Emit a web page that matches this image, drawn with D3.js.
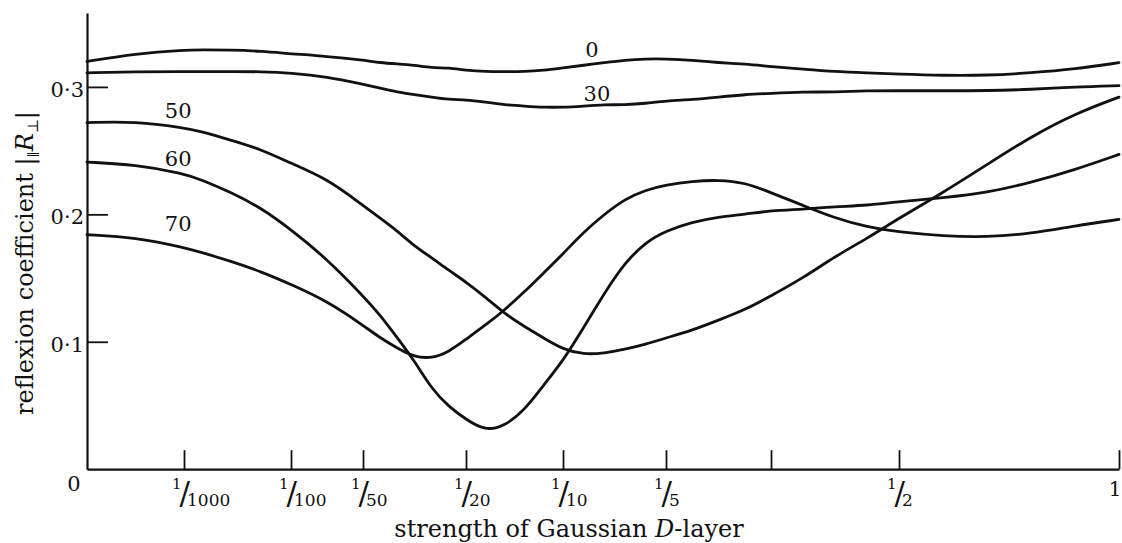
<!DOCTYPE html>
<html>
<head>
<meta charset="utf-8">
<script src="https://cdn.jsdelivr.net/npm/d3@7"></script>
<style>
  html, body { margin: 0; padding: 0; background: #fff; }
  svg { display: block; font-family: "DejaVu Serif", serif; }
</style>
</head>
<body>
<svg id="chart" width="1122" height="543"></svg>
<script>
// Strength of the Gaussian D-layer at which each curve is sampled
const strength = [0, 0.0005, 0.001, 0.0025, 0.005, 0.0075, 0.01, 0.015, 0.02, 0.025,
  0.03, 0.035, 0.04, 0.045, 0.05, 0.06, 0.07, 0.08, 0.09, 0.1,
  0.12, 0.14, 0.16, 0.18, 0.2, 0.225, 0.25, 0.275, 0.3, 0.35,
  0.4, 0.45, 0.5, 0.6, 0.7, 0.8, 0.9, 1];

// Reflexion coefficient |R| for each angle of incidence (degrees)
const angles = ["0", "30", "50", "60", "70"];
const r0 = [0.320, 0.326, 0.329, 0.329, 0.329, 0.328, 0.326, 0.324, 0.321, 0.319,
  0.318, 0.317, 0.315, 0.315, 0.313, 0.312, 0.312, 0.312, 0.313, 0.315,
  0.317, 0.319, 0.321, 0.322, 0.322, 0.321, 0.319, 0.318, 0.316, 0.314,
  0.312, 0.311, 0.310, 0.309, 0.309, 0.311, 0.314, 0.319];
const r30 = [0.311, 0.312, 0.312, 0.312, 0.312, 0.312, 0.311, 0.308, 0.302, 0.299,
  0.296, 0.294, 0.292, 0.290, 0.290, 0.288, 0.286, 0.285, 0.284, 0.284,
  0.285, 0.286, 0.286, 0.287, 0.289, 0.290, 0.292, 0.294, 0.295, 0.296,
  0.296, 0.297, 0.297, 0.297, 0.297, 0.298, 0.300, 0.301];
const r50 = [0.272, 0.273, 0.268, 0.265, 0.258, 0.251, 0.240, 0.228, 0.207, 0.197,
  0.187, 0.175, 0.166, 0.156, 0.147, 0.135, 0.122, 0.112, 0.103, 0.094,
  0.090, 0.091, 0.094, 0.098, 0.103, 0.109, 0.117, 0.125, 0.136, 0.150,
  0.167, 0.181, 0.197, 0.217, 0.239, 0.261, 0.279, 0.292];
const r60 = [0.241, 0.239, 0.232, 0.227, 0.217, 0.205, 0.188, 0.165, 0.136, 0.121,
  0.103, 0.085, 0.063, 0.049, 0.039, 0.030, 0.034, 0.046, 0.066, 0.085,
  0.111, 0.138, 0.162, 0.178, 0.187, 0.194, 0.198, 0.200, 0.203, 0.204,
  0.206, 0.207, 0.210, 0.213, 0.217, 0.225, 0.235, 0.247];
const r70 = [0.184, 0.182, 0.174, 0.170, 0.163, 0.155, 0.145, 0.132, 0.113, 0.103,
  0.095, 0.088, 0.087, 0.092, 0.102, 0.113, 0.125, 0.139, 0.154, 0.169,
  0.186, 0.200, 0.212, 0.219, 0.223, 0.226, 0.227, 0.225, 0.217, 0.207,
  0.197, 0.190, 0.186, 0.183, 0.182, 0.185, 0.191, 0.196];
const curves = [r0, r30, r50, r60, r70];

// Axis ticks
const xTicks = [0.001, 0.01, 0.02, 0.05, 0.1, 0.2, 0.3, 0.5, 1];
const xTickLabels = ["1/1000", "1/100", "1/50", "1/20", "1/10", "1/5", "", "1/2", "1"];
const yTicks = [0.1, 0.2, 0.3];

// ---- layout ----
const W = 1122, H = 543;
const plotLeft = 87, plotBottom = 469.2, plotTop = 13;
// distorted strength axis: pixel offsets of each stop from the origin
const xStops = [0, 97, 204, 276, 379, 476, 579, 684, 812, 1032];
// where each curve's angle label sits, in data units
const labelAt = [[0.128, 0.3296], [0.133, 0.295], [0.00094, 0.2817], [0.00094, 0.2441], [0.00094, 0.1931]];

const svg = d3.select("#chart");
svg.append("rect").attr("width", W).attr("height", H).attr("fill", "#fff");

const x = d3.scaleLinear().domain([0, ...xTicks]).range(xStops.map(d => plotLeft + d));
const y = d3.scaleLinear().domain([0, 0.358]).range([plotBottom, plotTop]);

const ink = "#111";

// x axis
const gx = svg.append("g")
  .attr("transform", `translate(0,${plotBottom})`)
  .call(d3.axisBottom(x).tickValues(xTicks).tickSize(-19).tickSizeOuter(0).tickFormat(""));
gx.select(".domain").attr("stroke", ink).attr("stroke-width", 2.2);
gx.selectAll(".tick line").attr("stroke", ink).attr("stroke-width", 1.8);

// y axis
const gy = svg.append("g")
  .attr("transform", `translate(${plotLeft},0)`)
  .call(d3.axisLeft(y).tickValues(yTicks).tickSize(-21).tickSizeOuter(0).tickPadding(3)
    .tickFormat(d => d3.format(".1f")(d).replace(".", "\u00B7")));
gy.attr("font-family", null).attr("font-size", 21);
gy.select(".domain").attr("stroke", ink).attr("stroke-width", 2.2);
gy.selectAll(".tick line").attr("stroke", ink).attr("stroke-width", 1.8);
gy.selectAll(".tick text").attr("fill", ink).attr("dy", "0.45em");

// origin label
svg.append("text").attr("x", plotLeft - 13).attr("y", plotBottom + 22)
  .attr("text-anchor", "middle").attr("font-size", 21).attr("fill", ink).text("0");

// fraction labels on the strength axis (numerator, slash, denominator in one text)
const fl = svg.append("g").attr("fill", ink);
xTicks.forEach((t, i) => {
  const lab = xTickLabels[i];
  if (!lab) return;
  const px = x(t);
  if (lab.indexOf("/") < 0) {
    fl.append("text").attr("x", px - 4).attr("y", plotBottom + 27)
      .attr("text-anchor", "middle").attr("font-size", 20).text(lab);
    return;
  }
  const [num, den] = lab.split("/");
  const tx = fl.append("text").attr("x", px - 12).attr("y", plotBottom + 35)
    .attr("text-anchor", "start");
  tx.append("tspan").attr("font-size", 15).attr("dy", -15).text(num);
  tx.append("tspan").attr("font-size", 31).attr("dy", 15).attr("dx", -2).text("/");
  tx.append("tspan").attr("font-size", 17).attr("dx", -3).attr("dy", 2).text(den);
});

// curves
const line = d3.line()
  .x((d, i) => x(strength[i]))
  .y(d => y(d))
  .curve(d3.curveBasis);

svg.append("g").selectAll("path").data(curves).join("path")
  .attr("d", line)
  .attr("fill", "none")
  .attr("stroke", ink)
  .attr("stroke-width", 2.8)
  .attr("stroke-linecap", "round")
  .attr("stroke-linejoin", "round");

// angle labels
svg.append("g").selectAll("text").data(angles).join("text")
  .attr("x", (d, i) => x(labelAt[i][0]))
  .attr("y", (d, i) => y(labelAt[i][1]))
  .attr("dy", "0.36em")
  .attr("text-anchor", "middle")
  .attr("font-size", 21)
  .attr("fill", ink)
  .text(d => d);

// axis titles
const xt = svg.append("text").attr("x", 569).attr("y", 537)
  .attr("text-anchor", "middle").attr("font-size", 24).attr("fill", ink);
xt.append("tspan").text("strength of Gaussian ");
xt.append("tspan").attr("font-style", "italic").text("D");
xt.append("tspan").text("-layer");

const yt = svg.append("text")
  .attr("transform", "translate(33,263) rotate(-90)")
  .attr("text-anchor", "middle").attr("font-size", 24).attr("fill", ink);
yt.append("tspan").text("reflexion coefficient |");
yt.append("tspan").attr("font-size", 13).attr("dy", 5).text("\u2225");
yt.append("tspan").attr("font-style", "italic").attr("dy", -5).text("R");
yt.append("tspan").attr("font-size", 15).attr("dy", 5).text("\u22A5");
yt.append("tspan").attr("dy", -5).text("|");
</script>
</body>
</html>
